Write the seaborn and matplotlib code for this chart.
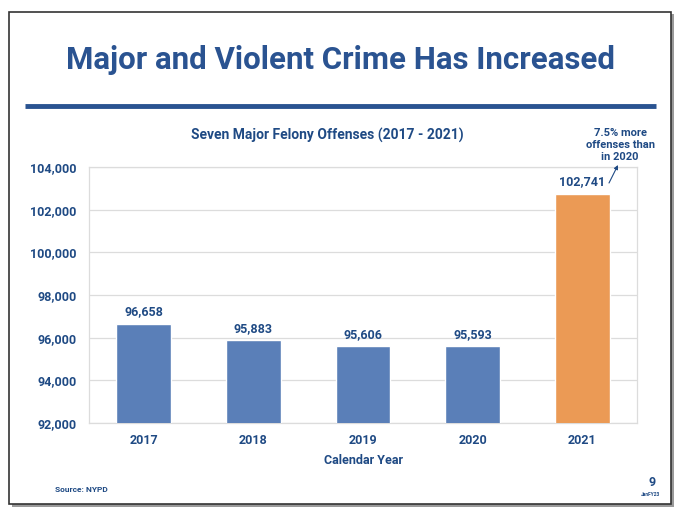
import matplotlib
matplotlib.use("Agg")
import matplotlib.pyplot as plt
import seaborn as sns
import pandas as pd
from matplotlib.patches import Rectangle
from matplotlib.lines import Line2D

# ---------- data ----------
years = ["2017", "2018", "2019", "2020", "2021"]
offenses = [96658, 95883, 95606, 95593, 102741]
bar_colors = ["#5a7fb8", "#5a7fb8", "#5a7fb8", "#5a7fb8", "#eb9a55"]
y_ticks = [92000, 94000, 96000, 98000, 100000, 102000, 104000]

df = pd.DataFrame({"year": years, "offenses": offenses})

sns.set_style("white")
plt.rcParams["font.family"] = ["Roboto", "DejaVu Sans"]
TXT = "#1f4a84"

W, H = 680, 516
fig = plt.figure(figsize=(W / 100, H / 100), dpi=100)
fig.patch.set_facecolor("white")

# slide frame + shadow
fig.add_artist(Rectangle((12 / W, 1 - 507 / H), 662 / W, 493 / H, transform=fig.transFigure,
                         facecolor="#9a9a9a", edgecolor="none", zorder=0))
fig.add_artist(Rectangle((9 / W, 1 - 504 / H), 662 / W, 492 / H, transform=fig.transFigure,
                         facecolor="white", edgecolor="#333333", linewidth=1.2, zorder=1))

# title and rule
fig.text(340 / W, 1 - 60 / H, "Major and Violent Crime Has Increased", ha="center", va="center",
         fontsize=22.5, fontweight="bold", color="#2a5391")
fig.add_artist(Line2D([25 / W, 656 / W], [1 - 106 / H, 1 - 106 / H], transform=fig.transFigure,
                      color="#2a5391", linewidth=3.5, solid_capstyle="butt"))

# axes area in pixel coordinates
left, right, top, bottom = 89, 637, 167, 423
ax = fig.add_axes([left / W, 1 - bottom / H, (right - left) / W, (bottom - top) / H])
ax.set_zorder(2)

sns.barplot(data=df, x="year", y="offenses", hue="year", palette=bar_colors, legend=False,
            width=0.5, ax=ax, saturation=1, zorder=3)

ax.set_ylim(92000, 104000)
ax.set_xlim(-0.5, 4.5)
ax.set_yticks(y_ticks)
ax.set_yticklabels([f"{v:,}" for v in y_ticks])
ax.yaxis.grid(True, color="#dcdcdc", linewidth=0.9, zorder=0)
ax.set_axisbelow(True)
for s in ax.spines.values():
    s.set_color("#dcdcdc")
    s.set_linewidth(0.9)
ax.tick_params(axis="both", length=0, colors=TXT, labelsize=9)
for lab in ax.get_xticklabels() + ax.get_yticklabels():
    lab.set_fontweight("bold")
ax.tick_params(axis="y", pad=9)
ax.tick_params(axis="x", pad=8)

ax.set_xlabel("Calendar Year", color=TXT, fontsize=9, fontweight="bold", labelpad=5)
ax.set_ylabel("")

for i, v in enumerate(offenses):
    ax.text(i, v + 250, f"{v:,}", ha="center", va="bottom", color=TXT, fontsize=9, fontweight="bold")

ax.set_title("Seven Major Felony Offenses (2017 - 2021)", color=TXT, fontsize=10,
             fontweight="bold", pad=20, x=0.435)

# annotation on the 2021 bar
fig.text(620 / W, 1 - 145 / H, "7.5% more\noffenses than\nin 2020", ha="center", va="center",
         color=TXT, fontsize=8, fontweight="bold", linespacing=1.25)
ax.annotate("", xy=(618 / W, 1 - 165 / H), xycoords="figure fraction",
            xytext=(609 / W, 1 - 183 / H), textcoords="figure fraction",
            annotation_clip=False,
            arrowprops=dict(arrowstyle="-|>", color=TXT, lw=0.8, mutation_scale=6,
                            shrinkA=0, shrinkB=0))

# footer
fig.text(55 / W, 1 - 490 / H, "Source: NYPD", ha="left", va="center", fontsize=6,
         fontweight="bold", color=TXT)
fig.text(652 / W, 1 - 482 / H, "9", ha="center", va="center", fontsize=9,
         fontweight="bold", color=TXT)
fig.text(650 / W, 1 - 494 / H, "JanFY23", ha="center", va="center", fontsize=3.5,
         fontweight="bold", color=TXT)

fig.savefig("out.png", dpi=100)
